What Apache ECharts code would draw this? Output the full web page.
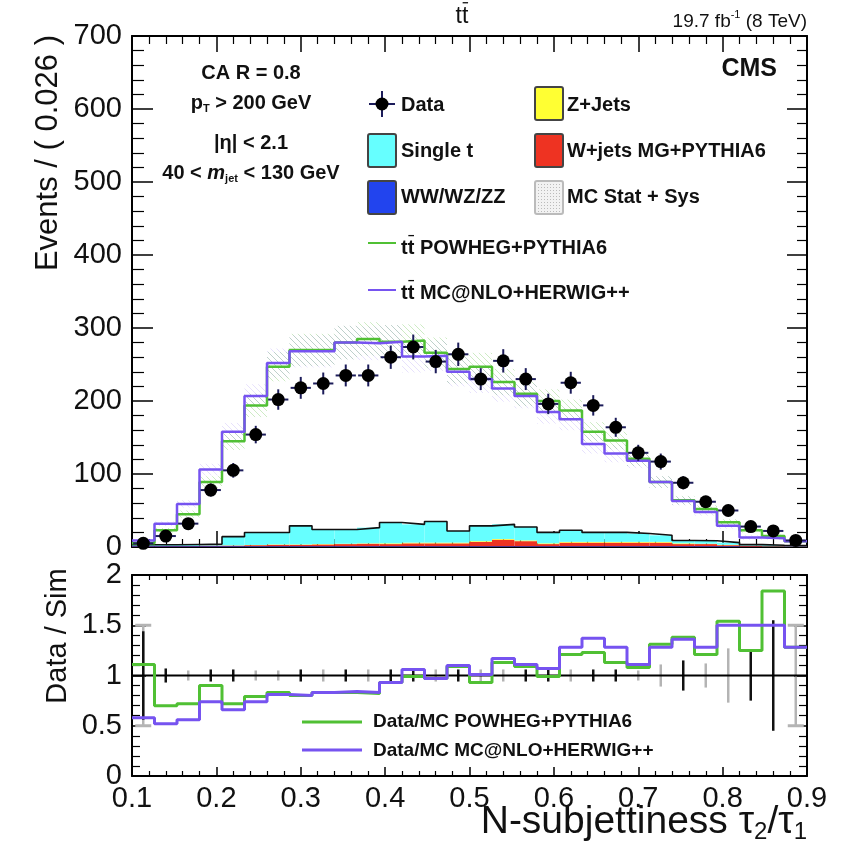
<!DOCTYPE html>
<html>
<head>
<meta charset="utf-8">
<title>tt N-subjettiness</title>
<script src="https://cdn.jsdelivr.net/npm/echarts@6/dist/echarts.min.js"></script>
<style>
  html, body { margin: 0; padding: 0; background: #fff; }
  #main { width: 847px; height: 846px; }
</style>
</head>
<body>
<div id="main"></div>
<script>
// binning: 30 bins between 0.1 and 0.9
const xLo = 0.1, xHi = 0.9, nBins = 30;
const binW = (xHi - xLo) / nBins;

// upper panel (events per bin)
const dataVals = [5, 15, 32, 78, 105, 154, 202, 218, 224, 235, 235, 260, 274, 254, 264,
                  230, 255, 230, 196, 225, 194, 164, 129, 117, 88, 62, 50, 28, 22, 9];
const dataErr  = [2, 4, 6, 9, 10, 12, 14, 15, 15, 15, 15, 16, 17, 16, 16,
                  15, 16, 15, 14, 15, 14, 13, 11, 11, 9, 8, 7, 5, 5, 3];
const powheg   = [5, 23, 45, 89, 145, 194, 247, 270, 270, 280, 285, 281, 283, 266, 244,
                  247, 226, 210, 200, 187, 158, 146, 121, 89, 64, 52, 34, 23, 15, 8];
const mcnlo    = [9, 32, 59, 106, 158, 207, 252, 268, 268, 280, 279, 281, 261, 262, 240,
                  230, 217, 207, 185, 175, 141, 128, 118, 89, 63, 48, 29, 13, 12, 8];
const mcBand   = [1, 3, 5, 8, 12, 16, 20, 22, 22, 23, 23, 23, 22, 21, 20,
                  19, 18, 17, 16, 15, 13, 12, 10, 8, 6, 5, 4, 3, 2, 1];
const diboson  = [1, 1, 1, 1, 1, 1, 1, 1, 1, 1, 1, 1, 1, 1, 1,
                  1, 1, 1, 1, 1, 1, 1, 1, 1, 1, 1, 1, 0.5, 0.5, 0.5];
const wjets    = [0.5, 0.5, 0.5, 1, 1, 1.5, 2, 2, 2.5, 3, 3.5, 3, 4, 4, 4,
                  6, 9, 7, 3, 5, 5, 5, 5, 5, 3, 3, 1.5, 1, 0.5, 0.5];
const zjets    = [0, 0, 0, 0, 0.2, 0.3, 0.5, 0.5, 0.5, 0.5, 0.5, 1, 1, 1, 1,
                  1, 1, 1, 1, 1, 1, 1, 1, 1, 1, 0.5, 0.5, 0.3, 0.2, 0];
const singleT  = [1.5, 1.5, 2, 2, 12, 17, 16.5, 25.5, 20, 19.5, 21.5, 28.5, 25, 29, 16,
                  21, 20, 18.5, 15, 16, 13, 13, 11.5, 9, 4, 4, 3, 1.4, 1.3, 1];

// lower panel (data / simulation)
const ratioPowheg = [1.11, 0.70, 0.72, 0.90, 0.72, 0.79, 0.83, 0.80, 0.83, 0.83, 0.82, 0.93, 0.99, 0.97, 1.09,
                     0.93, 1.13, 1.09, 0.99, 1.21, 1.23, 1.13, 1.08, 1.31, 1.38, 1.21, 1.54, 1.25, 1.84, 1.28];
const ratioMcnlo  = [0.58, 0.52, 0.56, 0.74, 0.66, 0.74, 0.81, 0.80, 0.83, 0.84, 0.83, 0.93, 1.06, 0.97, 1.10,
                     1.01, 1.17, 1.11, 1.07, 1.28, 1.37, 1.28, 1.11, 1.28, 1.36, 1.28, 1.50, 1.50, 1.50, 1.28];
// visible half-lengths of the black and grey uncertainty bars around 1
const ratioErrData = [0.44, 0.07, 0, 0.06, 0.06, 0, 0, 0.06, 0, 0.06, 0, 0.06, 0.06, 0, 0.06,
                      0, 0, 0.06, 0.06, 0, 0.06, 0.06, 0, 0, 0.15, 0, 0, 0.25, 0.55, 0];
const ratioErrMC   = [0.50, 0, 0.05, 0, 0, 0.05, 0.05, 0, 0.06, 0, 0.06, 0, 0, 0.06, 0,
                      0.06, 0.06, 0, 0, 0.06, 0, 0, 0.05, 0.11, 0, 0.12, 0.27, 0, 0, 0.50];

const FONT = "'Liberation Sans', Arial, Helvetica, sans-serif";
const INK = '#111';
const GREEN = '#50c034';
const PURPLE = '#7653f0';

const stackParts = [diboson, wjets, zjets, singleT];
const stackColors = ['#2244ee', '#ee3322', '#ffff33', '#66ffff'];
const totals = dataVals.map((v, i) => stackParts.reduce((s, a) => s + a[i], 0));

function edge(i) { return xLo + i * binW; }
function stepData(vals) {
    const pts = vals.map((v, i) => [edge(i), v]);
    pts.push([xHi, vals[vals.length - 1]]);
    return pts;
}
function centers(vals) { return vals.map((v, i) => [edge(i) + binW / 2, v]); }

function hatch(color) {
    const c = document.createElement('canvas');
    c.width = 6; c.height = 6;
    const g = c.getContext('2d');
    g.strokeStyle = color; g.lineWidth = 1;
    g.beginPath();
    g.moveTo(0, 0); g.lineTo(6, 6);
    g.moveTo(-1, 5); g.lineTo(1, 7);
    g.moveTo(5, -1); g.lineTo(7, 1);
    g.stroke();
    return { image: c, repeat: 'repeat' };
}
function dots() {
    const c = document.createElement('canvas');
    c.width = 3; c.height = 3;
    const g = c.getContext('2d');
    g.fillStyle = '#f2f2f2'; g.fillRect(0, 0, 3, 3);
    g.fillStyle = '#bbb'; g.fillRect(1, 1, 1, 1);
    return { image: c, repeat: 'repeat' };
}

// text runs with sub/superscripts, laid out with measured widths
const mctx = document.createElement('canvas').getContext('2d');
function run(x, y, parts, align) {
    const els = [];
    let w = 0;
    parts.forEach(p => {
        const o = p[2] || {};
        p.font = (o.italic ? 'italic ' : '') + (o.bold ? 'bold ' : '') + p[1] + 'px ' + FONT;
        mctx.font = p.font;
        p.w = mctx.measureText(p[0]).width;
        w += p.w;
    });
    let cx = align === 'right' ? x - w : align === 'center' ? x - w / 2 : x;
    parts.forEach(p => {
        const o = p[2] || {};
        els.push({
            type: 'text', x: cx, y: y + (o.dy || 0), silent: true, z: 100,
            style: { text: p[0], font: p.font, fill: INK, textAlign: 'left', textVerticalAlign: 'middle', align: 'left', verticalAlign: 'middle' }
        });
        if (o.bar) {
            els.push({
                type: 'line', silent: true, z: 100,
                shape: { x1: cx + p.w * 0.1, y1: y - p[1] * 0.62, x2: cx + p.w * 0.95, y2: y - p[1] * 0.62 },
                style: { stroke: INK, lineWidth: 1.3 }
            });
        }
        cx += p.w;
    });
    return els;
}

function box(x, y, w, h, fill, stroke) {
    return { type: 'rect', silent: true, z: 100, shape: { x: x, y: y, width: w, height: h, r: 2 },
             style: { fill: fill, stroke: stroke || '#444', lineWidth: 2 } };
}
function hline(x1, x2, y, color, width) {
    return { type: 'line', silent: true, z: 100, shape: { x1: x1, y1: y, x2: x2, y2: y },
             style: { stroke: color, lineWidth: width } };
}

const B = { bold: true };
let graphics = [];
graphics = graphics.concat(
    run(462, 17, [['t', 23], ['t', 23, { bar: true }]], 'center'),
    run(807, 22, [['19.7 fb', 19], ['-1', 11, { dy: -7 }], [' (8 TeV)', 19]], 'right'),
    run(777, 69, [['CMS', 25, B]], 'right'),
    run(251, 73, [['CA R = 0.8', 20, B]], 'center'),
    run(251, 103, [['p', 20, B], ['T', 11, { bold: true, dy: 6 }], [' > 200 GeV', 20, B]], 'center'),
    run(251, 143, [['|\u03b7| < 2.1', 20, B]], 'center'),
    run(251, 173, [['40 < ', 20, B], ['m', 20, { bold: true, italic: true }], ['jet', 11, { bold: true, dy: 6 }], [' < 130 GeV', 20, B]], 'center'),
    run(401, 105, [['Data', 20, B]], 'left'),
    run(567, 105, [['Z+Jets', 20, B]], 'left'),
    run(401, 151, [['Single t', 20, B]], 'left'),
    run(567, 151, [['W+jets MG+PYTHIA6', 20, B]], 'left'),
    run(401, 197, [['WW/WZ/ZZ', 20, B]], 'left'),
    run(567, 197, [['MC Stat + Sys', 20, B]], 'left'),
    run(401, 248, [['t', 20, B], ['t', 20, { bold: true, bar: true }], [' POWHEG+PYTHIA6', 20, B]], 'left'),
    run(401, 293, [['t', 20, B], ['t', 20, { bold: true, bar: true }], [' MC@NLO+HERWIG++', 20, B]], 'left'),
    run(373, 722, [['Data/MC POWHEG+PYTHIA6', 19, B]], 'left'),
    run(373, 751, [['Data/MC MC@NLO+HERWIG++', 19, B]], 'left'),
    run(807, 822, [['N-subjettiness \u03c4', 39], ['2', 24, { dy: 10 }], ['/\u03c4', 39], ['1', 24, { dy: 10 }]], 'right')
);
graphics.push(
    { type: 'text', x: 48, y: 35, rotation: Math.PI / 2, silent: true, z: 100,
      style: { text: 'Events / ( 0.026 )', font: '31px ' + FONT, fill: INK, textAlign: 'right', textVerticalAlign: 'middle', align: 'right', verticalAlign: 'middle' } },
    { type: 'text', x: 58, y: 636, rotation: Math.PI / 2, silent: true, z: 100,
      style: { text: 'Data / Sim', font: '29px ' + FONT, fill: INK, textAlign: 'center', textVerticalAlign: 'middle', align: 'center', verticalAlign: 'middle' } },
    // legend markers
    hline(369, 395, 104, '#1c1c5a', 2),
    { type: 'line', silent: true, z: 100, shape: { x1: 382, y1: 91, x2: 382, y2: 117 }, style: { stroke: '#1c1c5a', lineWidth: 2 } },
    { type: 'circle', silent: true, z: 101, shape: { cx: 382, cy: 104, r: 6.5 }, style: { fill: '#000' } },
    box(535, 87, 28, 33, stackColors[2]),
    box(368, 134, 28, 33, stackColors[3]),
    box(535, 134, 28, 33, stackColors[1]),
    box(368, 181, 28, 33, stackColors[0]),
    box(535, 181, 28, 33, dots(), '#bbb'),
    hline(368, 396, 243, GREEN, 2),
    hline(368, 396, 290, PURPLE, 2),
    hline(302, 362, 722, GREEN, 3),
    hline(302, 362, 750, PURPLE, 3)
);

function xAx(grid, pos, labels, major, minor) {
    return {
        type: 'value', gridIndex: grid, position: pos, min: xLo, max: xHi, interval: 0.1,
        axisLine: { show: true, onZero: false, lineStyle: { color: '#000', width: 2 } },
        axisTick: { show: true, inside: true, length: major, lineStyle: { color: '#000', width: 1.5 } },
        minorTick: { show: true, splitNumber: 5, length: minor, lineStyle: { color: '#000', width: 1.2 } },
        splitLine: { show: false }, minorSplitLine: { show: false },
        axisLabel: { show: labels, fontFamily: FONT, fontSize: 29, color: INK, margin: 8, formatter: v => v.toFixed(1) }
    };
}
function yAx(grid, pos, labels, max, interval, major, minor) {
    return {
        type: 'value', gridIndex: grid, position: pos, min: 0, max: max, interval: interval,
        axisLine: { show: true, onZero: false, lineStyle: { color: '#000', width: 2 } },
        axisTick: { show: true, inside: true, length: major, lineStyle: { color: '#000', width: 1.5 } },
        minorTick: { show: true, splitNumber: 5, length: minor, lineStyle: { color: '#000', width: 1.2 } },
        splitLine: { show: false }, minorSplitLine: { show: false },
        axisLabel: { show: labels, fontFamily: FONT, fontSize: 29, color: INK, margin: 10, formatter: v => String(+v.toFixed(1)) }
    };
}

const green = hatch('rgba(90,190,60,0.3)');
const purple = hatch('rgba(120,90,240,0.18)');

function bandSeries(center, pattern) {
    return {
        type: 'custom', xAxisIndex: 0, yAxisIndex: 0, silent: true, z: 2,
        data: centers(center),
        renderItem: function (params, api) {
            const i = params.dataIndex;
            const p0 = api.coord([edge(i), center[i] + mcBand[i]]);
            const p1 = api.coord([edge(i + 1), Math.max(0, center[i] - mcBand[i])]);
            return { type: 'rect', shape: { x: p0[0], y: p0[1], width: p1[0] - p0[0], height: p1[1] - p0[1] }, style: { fill: pattern } };
        }
    };
}
function stepSeries(vals, color, width, xi, z) {
    return {
        type: 'line', step: 'end', data: stepData(vals), xAxisIndex: xi, yAxisIndex: xi,
        symbol: 'none', silent: true, z: z, lineStyle: { color: color, width: width }
    };
}
function ratioErrSeries(errs, color, caps) {
    return {
        type: 'custom', xAxisIndex: 2, yAxisIndex: 2, silent: true, z: 2,
        data: centers(errs),
        renderItem: function (params, api) {
            const i = params.dataIndex;
            if (!errs[i]) return null;
            const xc = edge(i) + binW / 2;
            const t = api.coord([xc, 1 + errs[i]]);
            const b = api.coord([xc, 1 - errs[i]]);
            const children = [{ type: 'line', shape: { x1: t[0], y1: t[1], x2: b[0], y2: b[1] }, style: { stroke: color, lineWidth: 2.5 } }];
            if (caps && errs[i] > 0.3) {
                children.push({ type: 'line', shape: { x1: t[0] - 8, y1: t[1], x2: t[0] + 8, y2: t[1] }, style: { stroke: color, lineWidth: 3 } });
                children.push({ type: 'line', shape: { x1: b[0] - 8, y1: b[1], x2: b[0] + 8, y2: b[1] }, style: { stroke: color, lineWidth: 3 } });
            }
            return { type: 'group', children: children };
        }
    };
}

const chart = echarts.init(document.getElementById('main'), null, { renderer: 'canvas' });
chart.setOption({
    animation: false,
    backgroundColor: '#fff',
    grid: [
        { left: 132, right: 40, top: 36, height: 511 },
        { left: 132, right: 40, top: 575, height: 201 }
    ],
    xAxis: [
        xAx(0, 'bottom', false, 16, 8),
        xAx(0, 'top', false, 16, 8),
        xAx(1, 'bottom', true, 9, 5),
        xAx(1, 'top', false, 9, 5)
    ],
    yAxis: [
        yAx(0, 'left', true, 700, 100, 21, 12),
        yAx(0, 'right', false, 700, 100, 20, 10),
        yAx(1, 'left', true, 2, 0.5, 14, 8),
        yAx(1, 'right', false, 2, 0.5, 13, 8)
    ],
    graphic: graphics,
    series: [
        {
            type: 'custom', xAxisIndex: 0, yAxisIndex: 0, silent: true, z: 1,
            data: centers(totals),
            renderItem: function (params, api) {
                const i = params.dataIndex;
                let base = 0;
                const children = [];
                stackParts.forEach((arr, k) => {
                    const p0 = api.coord([edge(i), base]);
                    const p1 = api.coord([edge(i + 1), base + arr[i]]);
                    children.push({ type: 'rect', shape: { x: p0[0], y: p1[1], width: p1[0] - p0[0], height: p0[1] - p1[1] }, style: { fill: stackColors[k] } });
                    base += arr[i];
                });
                return { type: 'group', children: children };
            }
        },
        stepSeries(totals, '#111', 1.6, 0, 3),
        bandSeries(powheg, green),
        bandSeries(mcnlo, purple),
        stepSeries(powheg, GREEN, 2.5, 0, 4),
        stepSeries(mcnlo, PURPLE, 2.5, 0, 5),
        {
            type: 'custom', xAxisIndex: 0, yAxisIndex: 0, silent: true, z: 6,
            data: centers(dataVals),
            renderItem: function (params, api) {
                const i = params.dataIndex;
                const xc = edge(i) + binW / 2;
                const c = api.coord([xc, dataVals[i]]);
                const t = api.coord([xc, dataVals[i] + dataErr[i]]);
                const b = api.coord([xc, Math.max(0, dataVals[i] - dataErr[i])]);
                const l = api.coord([xc - binW * 0.45, dataVals[i]]);
                const r = api.coord([xc + binW * 0.45, dataVals[i]]);
                return { type: 'group', children: [
                    { type: 'line', shape: { x1: c[0], y1: t[1], x2: c[0], y2: b[1] }, style: { stroke: '#1c1c5a', lineWidth: 2 } },
                    { type: 'line', shape: { x1: l[0], y1: c[1], x2: r[0], y2: c[1] }, style: { stroke: '#1c1c5a', lineWidth: 2 } },
                    { type: 'circle', shape: { cx: c[0], cy: c[1], r: 6.5 }, style: { fill: '#000' } }
                ] };
            }
        },
        ratioErrSeries(ratioErrMC, '#b4b4b4', true),
        ratioErrSeries(ratioErrData, '#111', false),
        {
            type: 'line', xAxisIndex: 2, yAxisIndex: 2, data: [[xLo, 1], [xHi, 1]],
            symbol: 'none', silent: true, z: 3, lineStyle: { color: '#000', width: 2 }
        },
        stepSeries(ratioPowheg, GREEN, 3, 2, 4),
        stepSeries(ratioMcnlo, PURPLE, 3, 2, 5)
    ]
});
</script>
</body>
</html>
